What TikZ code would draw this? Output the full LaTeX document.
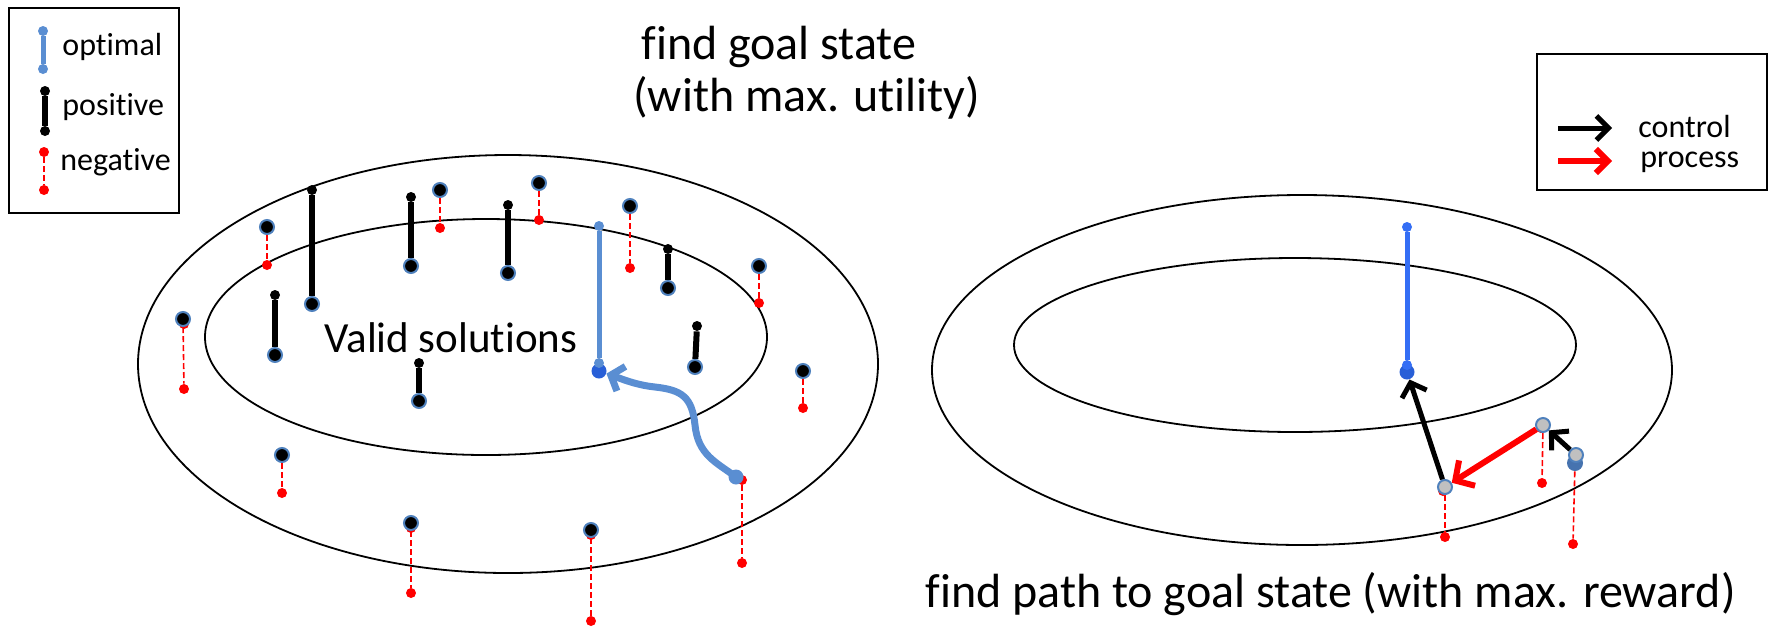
\documentclass[tikz,border=0pt]{standalone}
\usepackage{fontspec}
\setmainfont{Carlito}[Ligatures=NoCommon]
\usetikzlibrary{arrows.meta}
\pgfdeclarelayer{bg}
\pgfdeclarelayer{lines}
\pgfsetlayers{bg,lines,main}
\definecolor{optblue}{RGB}{90,142,210}
\definecolor{ringblue}{RGB}{79,129,189}
\definecolor{brightblue}{RGB}{52,110,245}
\definecolor{deepblue}{RGB}{40,95,215}
\definecolor{nodegrey}{RGB}{192,192,192}
\definecolor{stackblue}{RGB}{70,115,175}
\begin{document}
\begin{tikzpicture}[x=0.5pt,y=-0.5pt,
  ell/.style={line width=0.9pt},
  frame/.style={line width=1pt},
  postop/.style={circle,fill=black,inner sep=0pt,minimum size=5pt},
  state/.style={circle,fill=black,draw=ringblue,line width=1pt,inner sep=0pt,minimum size=7pt},
  reddot/.style={circle,fill=red,inner sep=0pt,minimum size=5pt},
  posline/.style={line width=3pt},
  negline/.style={red,line width=0.8pt,dash pattern=on 3pt off 1.5pt},
  optdot/.style={circle,fill=optblue,inner sep=0pt,minimum size=5pt},
  optline/.style={optblue,line width=2.5pt},
  goalline/.style={brightblue,line width=2.5pt},
  goaldot/.style={circle,fill=brightblue,inner sep=0pt,minimum size=5pt},
  bigdot/.style={circle,fill=deepblue,inner sep=0pt,minimum size=7.5pt},
  greynode/.style={circle,fill=nodegrey,draw=ringblue,line width=1pt,inner sep=0pt,minimum size=7pt},
  ctrl/.style={line width=2.5pt,-{Straight Barb[length=6pt,width=13pt]}},
  proc/.style={red,line width=3pt,-{Straight Barb[length=7pt,width=15pt]}},
  lctrl/.style={line width=2.5pt,-{Straight Barb[length=6pt,width=12pt]}},
  lproc/.style={red,line width=3pt,-{Straight Barb[length=6pt,width=12pt]}},
  optcurve/.style={optblue,line width=3.5pt,-{Straight Barb[length=5.5pt,width=13pt]}},
  lbl/.style={font=\fontsize{16}{19}\selectfont,inner sep=0pt,anchor=base west},
  ttl/.style={font=\fontsize{24}{29}\selectfont,inner sep=0pt,anchor=base west},
  vtxt/.style={font=\fontsize{21.5}{25}\selectfont,inner sep=0pt,anchor=base west}
]
\useasboundingbox (0,0) rectangle (1774,629);

% ---------- ellipses
\begin{pgfonlayer}{bg}
\draw[ell] (508,364) ellipse [x radius=370, y radius=209];
\draw[ell] (486,337) ellipse [x radius=281, y radius=118];
\draw[ell] (1302,370) ellipse [x radius=370, y radius=175];
\draw[ell] (1295,345) ellipse [x radius=281, y radius=87];
% legend frames
\draw[frame] (9,8) rectangle (179,213);
\draw[frame] (1537,54) rectangle (1767,190);
\end{pgfonlayer}

% ---------- titles
\node[ttl] (t1) at (641,59) {find goal state};
\node[ttl] (t2) at (633,111) {(with max. utility)};
\node[vtxt] (vs) at (324,352) {Valid solutions};
\node[ttl] (t3) at (925,607) {find path to goal state (with max. reward)};

% ---------- left legend
\node[optdot] (lo1) at (43,31) {};
\node[optdot] (lo2) at (43,69) {};
\node[postop] (lp1) at (45,91) {};
\node[postop] (lp2) at (45,131) {};
\node[reddot] (ln1) at (44,152) {};
\node[reddot] (ln2) at (44,190) {};
\node[lbl] (lt1) at (62,55) {optimal};
\node[lbl] (lt2) at (62,115) {positive};
\node[lbl] (lt3) at (60,170) {negative};
\begin{pgfonlayer}{lines}
\draw[optline] (lo1) -- (lo2);
\draw[posline] (lp1) -- (lp2);
\draw[negline] (ln1) -- (ln2);
\end{pgfonlayer}

% ---------- right legend
\coordinate (ca1) at (1558,128);
\coordinate (ca2) at (1612,128);
\coordinate (pa1) at (1558,161);
\coordinate (pa2) at (1612,161);
\draw[lctrl] (ca1) -- (ca2);
\draw[lproc] (pa1) -- (pa2);
\node[lbl] (rt1) at (1638,137) {control};
\node[lbl] (rt2) at (1640,167) {process};

% ---------- left figure: positives
\node[postop] (p1t) at (312,190) {}; \node[state] (p1b) at (312,304) {};
\node[postop] (p2t) at (411,197) {}; \node[state] (p2b) at (411,266) {};
\node[postop] (p3t) at (508,205) {}; \node[state] (p3b) at (508,273) {};
\node[postop] (p4t) at (275,295) {}; \node[state] (p4b) at (275,355) {};
\node[postop] (p5t) at (419,363) {}; \node[state] (p5b) at (419,401) {};
\node[postop] (p6t) at (668,249) {}; \node[state] (p6b) at (668,288) {};
\node[postop] (p7t) at (697,326) {}; \node[state] (p7b) at (695,367) {};
\begin{pgfonlayer}{lines}
\foreach \i in {1,...,7} { \draw[posline] (p\i t) -- (p\i b); }
\end{pgfonlayer}

% ---------- left figure: negatives
\node[reddot] (n6r) at (184,324) {};
\node[reddot] (n9r) at (411,528) {};
\node[reddot] (n10r) at (591,535) {};
\node[state] (n1t) at (267,227) {}; \node[reddot] (n1b) at (267,265) {};
\node[state] (n2t) at (440,190) {}; \node[reddot] (n2b) at (440,228) {};
\node[state] (n3t) at (539,183) {}; \node[reddot] (n3b) at (539,220) {};
\node[state] (n4t) at (630,206) {}; \node[reddot] (n4b) at (630,268) {};
\node[state] (n5t) at (759,266) {}; \node[reddot] (n5b) at (759,303) {};
\node[state] (n6t) at (183,319) {}; \node[reddot] (n6b) at (184,389) {};
\node[state] (n7t) at (803,371) {}; \node[reddot] (n7b) at (803,408) {};
\node[state] (n8t) at (282,455) {}; \node[reddot] (n8b) at (282,493) {};
\node[state] (n9t) at (411,523) {}; \node[reddot] (n9b) at (411,593) {};
\node[state] (n10t) at (591,530) {}; \node[reddot] (n10b) at (591,621) {};
\node[reddot] (n11t) at (742,480) {}; \node[reddot] (n11b) at (742,563) {};
\begin{pgfonlayer}{lines}
\foreach \i in {1,...,11} { \draw[negline] (n\i t) -- (n\i b); }
\end{pgfonlayer}

% ---------- left figure: optimal + path
\node[optdot] (o1) at (599,226) {};
\node[bigdot] (ob) at (599,371) {};
\node[optdot] (o2) at (599,363) {};
\node[circle,fill=optblue,inner sep=0pt,minimum size=7.5pt] (cs) at (736,477) {};
\begin{pgfonlayer}{lines}
\draw[optline] (o1) -- (o2);
\end{pgfonlayer}
\draw[optcurve] (cs.center) .. controls (716,462) and (698,455) .. (695,425)
  .. controls (692,397) and (682,390) .. (655,387)
  .. controls (636,385) and (622,379) .. (ob);

% ---------- right figure
\node[goaldot] (g1) at (1407,227) {};
\node[bigdot] (gb) at (1407,372) {};
\node[goaldot] (g2) at (1407,365) {};
\begin{pgfonlayer}{lines}
\draw[goalline] (g1) -- (g2);
\end{pgfonlayer}

\node[reddot] (rAt) at (1443,491) {};
\node[reddot] (rBt) at (1541,428) {};
\node[greynode] (gA) at (1445,487) {};
\node[greynode] (gB) at (1543,425) {};
\node[circle,fill=stackblue,inner sep=0pt,minimum size=8pt] (gCs) at (1575,463) {};
\node[greynode] (gC) at (1576,455) {};
\node[reddot] (rA) at (1445,537) {};
\node[reddot] (rB) at (1542,483) {};
\node[reddot] (rC) at (1573,544) {};
\begin{pgfonlayer}{lines}
\draw[negline] (gA) -- (rA);
\draw[negline] (gB) -- (rB);
\draw[negline] (gCs) -- (rC);
\end{pgfonlayer}
\draw[ctrl] (gA) -- (gb);
\draw[proc] (gB) -- (gA);
\draw[ctrl] (gC) -- (gB);
\end{tikzpicture}
\end{document}
